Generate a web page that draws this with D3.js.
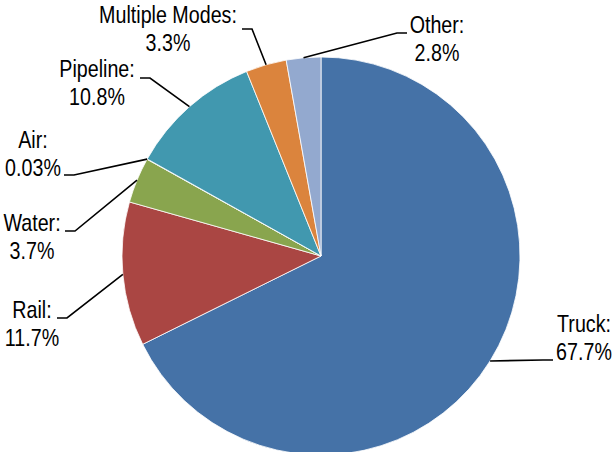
<!DOCTYPE html>
<html>
<head>
<meta charset="utf-8">
<script src="https://cdn.jsdelivr.net/npm/d3@7"></script>
<style>
  html, body { margin: 0; padding: 0; background: #fff; }
  svg text { font-family: "Liberation Sans", Arial, sans-serif; font-size: 24px; fill: #000; }
</style>
</head>
<body>
<svg id="chart" width="616" height="452"></svg>
<script>
// data
let modes = ['Truck', 'Rail', 'Water', 'Air', 'Pipeline', 'Multiple Modes', 'Other']
let shares = [67.7, 11.7, 3.7, 0.03, 10.8, 3.3, 2.8]
let shareLabels = ['67.7%', '11.7%', '3.7%', '0.03%', '10.8%', '3.3%', '2.8%']
let colors = ['#4572A7', '#AA4643', '#89A54E', '#71588F', '#4198AF', '#DB843D', '#93A9CF']

// label layout (manually placed labels, like the original)
// x = text centre, y = first baseline, ly = leader y, lx = leader end, side
let labelLayout = [
    {x: 584, y: 332, ly: 360, lx: 553, side: 1},
    {x: 32, y: 318, ly: 318, lx: 57, side: -1},
    {x: 32, y: 231, ly: 231, lx: 65, side: -1},
    {x: 33, y: 148, ly: 175, lx: 64, side: -1},
    {x: 97, y: 77, ly: 78, lx: 140, side: -1},
    {x: 168, y: 23, ly: 29, lx: 242, side: -1},
    {x: 437, y: 33, ly: 33, lx: 407, side: 1}
]

let svg = d3.select('#chart')
let cx = 321, cy = 256, radius = 199
let narrow = 0.82 // no Arial Narrow here, so squeeze the regular face

let pie = d3.pie().sort(null).value(d => d.value)
let arcs = pie(modes.map((m, i) => ({name: m, value: shares[i], label: shareLabels[i], color: colors[i], layout: labelLayout[i]})))

let arc = d3.arc().innerRadius(0).outerRadius(radius)

let g = svg.append('g').attr('transform', `translate(${cx},${cy})`)

g.selectAll('path.slice')
    .data(arcs)
    .enter()
    .append('path')
    .attr('class', 'slice')
    .attr('d', arc)
    .attr('fill', d => d.data.color)
    .attr('stroke', '#fff')
    .attr('stroke-width', 0.8)

// leader lines: from slice mid-angle on the rim, to a knee, then flat to label
let edgePoint = d => {
    let a = (d.startAngle + d.endAngle) / 2
    return [cx + radius * Math.sin(a), cy - radius * Math.cos(a)]
}

svg.selectAll('polyline.leader')
    .data(arcs)
    .enter()
    .append('polyline')
    .attr('class', 'leader')
    .attr('fill', 'none')
    .attr('stroke', '#000')
    .attr('stroke-width', 1.6)
    .attr('points', d => {
        let p0 = edgePoint(d)
        let L = d.data.layout
        let knee = [L.lx - L.side * 10, L.ly]
        return [p0, knee, [L.lx, L.ly]].map(p => p.join(',')).join(' ')
    })

let labels = svg.selectAll('text.label')
    .data(arcs)
    .enter()
    .append('text')
    .attr('class', 'label')
    .attr('text-anchor', 'middle')
    .attr('transform', d => `translate(${d.data.layout.x},${d.data.layout.y}) scale(${narrow},1)`)

labels.append('tspan')
    .attr('x', 0)
    .attr('y', 0)
    .text(d => d.data.name + ':')

labels.append('tspan')
    .attr('x', 0)
    .attr('y', 28.5)
    .text(d => d.data.label)
</script>
</body>
</html>
